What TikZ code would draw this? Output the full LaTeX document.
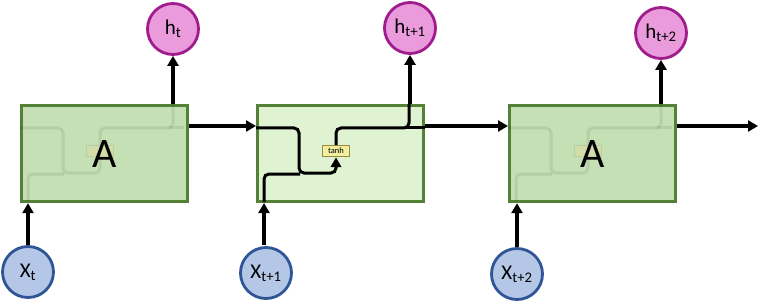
\documentclass[tikz,border=0pt]{standalone}
\usepackage{fontspec}
\setmainfont{Carlito}
\usetikzlibrary{arrows.meta}
\definecolor{boxfill}{HTML}{C5E0B4}
\definecolor{boxfilllt}{HTML}{DFF2D2}
\definecolor{boxdraw}{HTML}{538135}
\definecolor{hfill}{HTML}{EA9BDC}
\definecolor{hdraw}{HTML}{A01C8C}
\definecolor{xfill}{HTML}{B4C7E7}
\definecolor{xdraw}{HTML}{2F5597}
\definecolor{tanhfill}{HTML}{F2EFA0}
\definecolor{tanhdraw}{HTML}{9C8A3A}
\definecolor{ghostbox}{HTML}{D2DDA8}
\begin{document}
\begin{tikzpicture}[x=1pt,y=-1pt,
  cell/.style={draw=boxdraw,line width=3.2pt,fill=boxfill,minimum width=166pt,minimum height=96pt,inner sep=0pt,anchor=north west},
  hcirc/.style={circle,draw=hdraw,fill=hfill,line width=2.8pt,minimum size=51pt,inner sep=0pt,font=\fontsize{21}{21}\selectfont},
  xcirc/.style={circle,draw=xdraw,fill=xfill,line width=2.8pt,minimum size=51pt,inner sep=0pt,font=\fontsize{21}{21}\selectfont},
  arr/.style={line width=3.3pt,-{Triangle[length=10pt,width=11pt]}},
  wire/.style={line width=3pt,rounded corners=5pt},
  ghost/.style={draw=black,opacity=0.08},
  tanhbox/.style={draw=tanhdraw,fill=tanhfill,line width=0.9pt,minimum width=27pt,minimum height=11pt,inner sep=0pt,font=\fontsize{8.5}{8.5}\selectfont}
]
\useasboundingbox (0,0) rectangle (768,302);
% cells
\node[cell] (A1) at (20,104) {};
\node[cell,fill=boxfilllt] (A2) at (256,104) {};
\node[cell] (A3) at (508,104) {};
% internal wiring, middle cell
\node[tanhbox] (T2) at (336,151) {tanh};
\draw[wire] (A2.west |- 0,128) -- (299,128) -- (299,173) -- (336,173) -- (336,166);
\draw[wire] (264,202) -- (264,174) -- (300,174);
\draw[wire] (T2.north) -- (336,128) -- (409,128) -- (409,104);
\draw[wire] (405,128) -- (A2.east |- 0,128);
\fill[black] (336,157.5) -- (330.5,167) -- (341.5,167) -- cycle;
% ghost wiring, first cell
\begin{scope}[ghost,xshift=-236pt]
\node[tanhbox,draw=black,fill=ghostbox,opacity=1,draw opacity=0.08] (T1) at (336,151) {};
\draw[wire] (256,128) -- (299,128) -- (299,173) -- (336,173) -- (336,159);
\draw[wire] (264,201) -- (264,174) -- (300,174);
\draw[wire] (336,146) -- (336,128) -- (409,128) -- (409,104);
\draw[wire] (405,128) -- (420,128);
\end{scope}
\begin{scope}[ghost,xshift=252pt]
\node[tanhbox,draw=black,fill=ghostbox,opacity=1,draw opacity=0.08] (T3) at (336,151) {};
\draw[wire] (256,128) -- (299,128) -- (299,173) -- (336,173) -- (336,159);
\draw[wire] (264,201) -- (264,174) -- (300,174);
\draw[wire] (336,146) -- (336,128) -- (409,128) -- (409,104);
\draw[wire] (405,128) -- (420,128);
\end{scope}
\node[font=\fontsize{42}{42}\selectfont] (L1) at (A1.center) {A};
\node[font=\fontsize{42}{42}\selectfont] (L3) at (A3.center) {A};
% circles
\node[hcirc] (h1) at (173,29) {h\textsubscript{t}};
\node[hcirc] (h2) at (410,28) {h\textsubscript{t+1}};
\node[hcirc] (h3) at (661,33) {h\textsubscript{t+2}};
\node[xcirc] (x1) at (28,272) {X\textsubscript{t}};
\node[xcirc] (x2) at (266,273) {X\textsubscript{t+1}};
\node[xcirc] (x3) at (517,274) {X\textsubscript{t+2}};
% arrows
\draw[arr] (A1.north -| h1.south) -- (h1.south);
\draw[arr] (A2.north -| 410,0) -- (h2.south);
\draw[arr] (A3.north -| h3.south) -- (h3.south);
\draw[arr] (x1.north) -- (x1.north |- A1.south);
\draw[arr] (264,245) -- (264,203);
\draw[arr] (x3.north) -- (x3.north |- A3.south);
\draw[arr] (A1.east |- 0,126) -- (A2.west |- 0,126);
\draw[arr] (A2.east |- 0,126) -- (A3.west |- 0,126);
\coordinate (out) at (758,126);
\draw[arr] (A3.east |- 0,126) -- (out);
\end{tikzpicture}
\end{document}
